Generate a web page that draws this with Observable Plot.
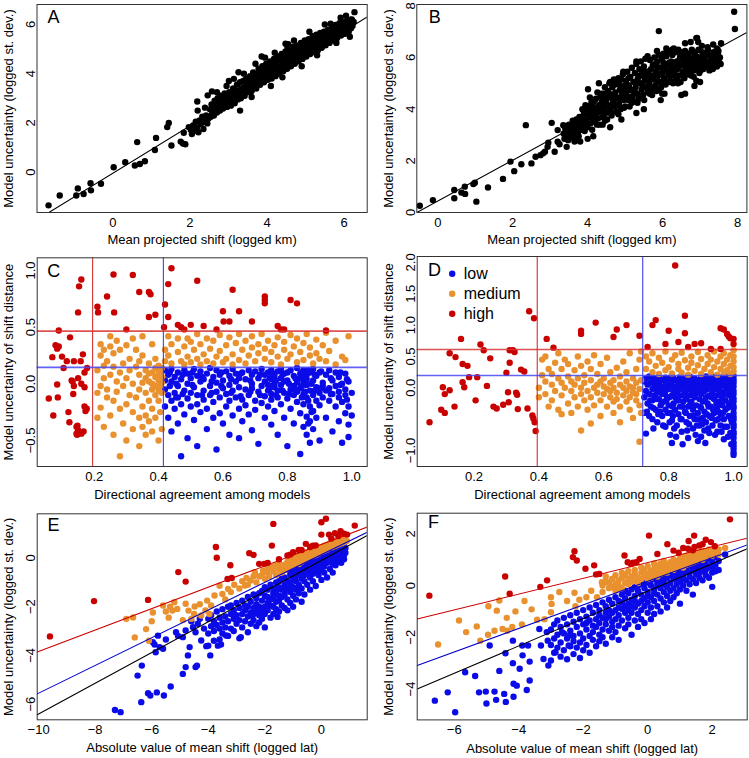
<!DOCTYPE html>
<html><head><meta charset="utf-8">
<script src="https://cdn.jsdelivr.net/npm/d3@7"></script>
<script src="https://cdn.jsdelivr.net/npm/@observablehq/plot@0.6"></script>
<style>
html,body{margin:0;padding:0;background:#fff;}
#wrap{position:relative;width:749px;height:758px;overflow:hidden;background:#fff;}
</style></head><body><div id="wrap"></div>
<script>
// ---------- Panel A (x,y flat pairs) ----------
const ptsA = [
-1.67,-1.35, -1.38,-0.95, -0.95,-0.95, -0.91,-0.66, -0.76,-0.89, -0.58,-0.45, -0.57,-0.74, -0.31,-0.47, 0.02,0.2, 0.32,0.4, 0.57,0.27, 0.63,1.22, 0.7,0.33, 0.83,0.44, 1.09,0.9, 1.12,1.39, 1.41,1.83, 1.45,2.0, 1.52,1.08, 1.76,1.24, 1.82,1.16, 1.88,1.13, 1.84,1.6, 1.97,1.83, 2.19,2.87, 2.2,2.5, 2.46,3.12, 2.57,3.28, 2.39,2.62, 3.01,3.7, 3.14,3.79, 3.26,4.06, 3.86,4.7, 4.48,5.22, 4.53,5.08, 4.66,4.95, 5.2,5.52, 5.65,6.03, 5.91,6.27, 6.27,6.5, 6.17,6.19,
2.02,1.72, 2.05,1.55, 2.08,1.9, 2.12,1.68, 2.15,2.05, 2.18,1.8, 2.22,1.62, 2.25,2.1, 2.28,1.95, 2.32,2.25, 2.35,1.75, 2.38,2.05, 2.42,2.3, 2.45,1.98, 2.48,2.18,
2.52,2.55, 2.54,2.25, 2.56,2.75, 2.58,2.4, 2.6,2.62, 2.62,2.3, 2.64,2.9, 2.66,2.55, 2.68,2.75, 2.7,2.42, 2.72,3.0, 2.74,2.62, 2.76,2.85, 2.78,2.5, 2.8,3.1, 2.82,2.72, 2.84,2.95, 2.86,2.58, 2.88,2.85, 2.9,3.2, 2.92,2.78, 2.94,3.0, 2.96,2.65, 2.98,3.1,
3.0,2.85, 3.02,3.25, 3.04,3.0, 3.06,2.7, 3.08,3.15, 3.1,2.9, 3.12,3.4, 3.14,3.05, 3.16,2.8, 3.18,3.3, 3.2,3.1, 3.22,3.55, 3.24,2.95, 3.26,3.3, 3.28,3.15, 3.3,3.65, 3.32,3.0, 3.34,3.4, 3.36,3.2, 3.38,3.7, 3.4,3.45, 3.42,3.1, 3.44,3.35, 3.46,3.8, 3.48,3.55,
3.5,3.25, 3.52,3.65, 3.54,3.45, 3.56,3.9, 3.58,3.6, 3.6,3.3, 3.62,3.78, 3.64,4.05, 3.66,3.55, 3.68,3.85, 3.7,3.7, 3.72,3.4, 3.74,4.0, 3.76,3.75, 3.78,4.2, 3.8,3.9, 3.82,3.55, 3.84,4.05, 3.86,3.8, 3.88,4.3, 3.9,3.95, 3.92,3.65, 3.94,4.15, 3.96,3.9, 3.98,4.4,
4.0,4.05, 4.02,3.75, 4.04,4.25, 4.06,3.95, 4.08,4.5, 4.1,4.1, 4.12,3.8, 4.14,4.35, 4.16,4.05, 4.18,4.6, 4.2,4.25, 4.22,3.9, 4.24,4.45, 4.26,4.15, 4.28,4.7, 4.3,4.3, 4.32,4.0, 4.34,4.55, 4.36,4.25, 4.38,4.8, 4.4,4.4, 4.42,4.1, 4.44,4.65, 4.46,4.35, 4.48,4.9,
4.5,4.5, 4.52,4.2, 4.54,4.75, 4.56,4.45, 4.58,4.95, 4.6,4.62, 4.62,4.3, 4.64,4.85, 4.66,4.55, 4.68,5.1, 4.7,4.72, 4.72,4.4, 4.74,4.95, 4.76,4.65, 4.78,5.15, 4.8,4.82, 4.82,4.5, 4.84,5.05, 4.86,4.75, 4.88,5.25, 4.9,4.9, 4.92,4.6, 4.94,5.15, 4.96,4.85, 4.98,5.35,
5.0,5.0, 5.02,4.7, 5.04,5.2, 5.06,4.9, 5.08,5.4, 5.1,5.1, 5.12,4.8, 5.14,5.3, 5.16,5.0, 5.18,5.5, 5.2,5.18, 5.22,4.88, 5.24,5.38, 5.26,5.1, 5.28,5.58, 5.3,5.25, 5.32,4.95, 5.34,5.45, 5.36,5.2, 5.38,5.65, 5.4,5.32, 5.42,5.05, 5.44,5.52, 5.46,5.28, 5.48,5.7,
5.5,5.4, 5.52,5.15, 5.54,5.6, 5.56,5.35, 5.58,5.78, 5.6,5.5, 5.62,5.25, 5.64,5.68, 5.66,5.45, 5.68,5.88, 5.7,5.6, 5.72,5.35, 5.74,5.78, 5.76,5.55, 5.78,5.98, 5.8,5.68, 5.82,5.45, 5.84,5.85, 5.86,5.62, 5.88,6.05, 5.9,5.78, 5.92,5.55, 5.94,5.95, 5.96,5.72, 5.98,6.1,
6.0,5.85, 6.02,5.62, 6.04,6.0, 6.06,5.78, 6.08,6.15, 6.1,5.9, 6.12,5.7, 6.15,6.05, 6.18,5.85, 6.2,6.2, 6.22,5.95, 6.25,6.1,
3.3,2.5, 3.6,3.05, 4.1,3.5, 4.4,3.85, 4.9,4.3, 5.3,4.75, 5.8,5.25, 3.4,4.0, 3.7,4.4, 4.2,4.85, 4.7,5.35, 5.1,5.7, 5.5,6.0, 2.7,3.25, 2.95,3.5, 6.05,6.35, 6.15,5.5, 3.95,4.65, 4.55,5.2
];
// ---------- Panel B ----------
const ptsB = [
-0.48,0.26, -0.13,0.48, 0.44,0.87, 0.44,0.55, 0.63,0.77, 0.72,1.0, 0.73,0.72, 0.95,1.1, 0.99,1.15, 1.03,0.42, 1.34,0.97, 1.74,1.3, 1.94,1.97, 2.04,1.6, 2.23,1.87, 2.35,3.38, 2.5,1.9, 2.61,2.16, 2.74,2.22, 2.81,2.29, 2.86,2.35, 2.95,2.7, 2.93,2.54, 3.04,3.47, 3.12,2.35, 3.2,2.74, 3.2,3.19, 3.25,2.64, 3.44,2.54, 3.35,3.38, 4.01,4.77, 5.9,7.02, 7.91,7.77, 7.93,7.1, 6.92,6.76,
3.36,3.05, 3.38,2.85, 3.4,3.3, 3.43,2.95, 3.45,3.15, 3.48,2.8, 3.5,3.4, 3.52,3.05, 3.55,3.25, 3.57,2.9, 3.6,3.55, 3.62,3.15, 3.64,3.35, 3.66,2.85, 3.68,3.05, 3.7,3.6, 3.72,3.25, 3.74,3.45, 3.76,2.95, 3.78,3.7, 3.8,3.35,
3.82,3.2, 3.84,3.7, 3.86,4.0, 3.88,3.35, 3.9,3.8, 3.92,3.15, 3.94,4.15, 3.96,3.55, 3.98,3.9, 4.0,3.3, 4.02,4.1, 4.04,3.7, 4.06,4.45, 4.08,3.45, 4.1,3.95, 4.12,3.2, 4.14,4.25, 4.16,3.75, 4.18,4.05, 4.2,3.5, 4.22,4.4, 4.24,3.85, 4.26,4.65, 4.28,3.65, 4.3,4.15, 4.32,3.4, 4.34,4.5, 4.36,3.95, 4.38,4.3, 4.4,3.7,
4.42,4.6, 4.44,4.05, 4.46,4.85, 4.48,3.85, 4.5,4.35, 4.52,3.6, 4.54,4.7, 4.56,4.15, 4.58,5.0, 4.6,3.95, 4.62,4.5, 4.64,3.75, 4.66,4.85, 4.68,4.3, 4.7,5.15, 4.72,4.1, 4.74,4.65, 4.76,3.9, 4.78,5.05, 4.8,4.45, 4.82,5.2, 4.84,4.2, 4.86,4.75, 4.88,4.0, 4.9,5.15, 4.92,4.55, 4.94,5.35, 4.96,4.35, 4.98,4.9, 5.0,4.1,
5.02,5.1, 5.04,4.65, 5.06,5.45, 5.08,4.35, 5.1,4.9, 5.12,4.1, 5.14,5.25, 5.16,4.75, 5.18,5.6, 5.2,4.5, 5.22,5.05, 5.24,4.3, 5.26,5.4, 5.28,4.85, 5.3,5.75, 5.32,4.6, 5.34,5.2, 5.36,4.4, 5.38,5.55, 5.4,5.0, 5.42,5.85, 5.44,4.75, 5.46,5.3, 5.48,4.55, 5.5,5.65, 5.52,5.1, 5.54,5.95, 5.56,4.85, 5.58,5.45, 5.6,4.65,
5.62,5.45, 5.64,5.05, 5.66,5.9, 5.68,4.75, 5.7,5.3, 5.72,4.55, 5.74,5.7, 5.76,5.15, 5.78,6.0, 5.8,4.9, 5.82,5.45, 5.84,4.7, 5.86,5.85, 5.88,5.3, 5.9,6.1, 5.92,5.05, 5.94,5.6, 5.96,4.85, 5.98,5.95, 6.0,5.4, 6.02,6.15, 6.04,5.2, 6.06,5.7, 6.08,4.95, 6.1,6.05, 6.12,5.5, 6.14,6.2, 6.16,5.3, 6.18,5.8, 6.2,5.1,
6.22,5.6, 6.24,5.3, 6.26,6.1, 6.28,5.0, 6.3,5.75, 6.32,5.45, 6.34,6.2, 6.36,5.2, 6.38,5.85, 6.4,5.55, 6.42,6.3, 6.44,5.3, 6.46,5.95, 6.48,5.05, 6.5,5.7, 6.52,6.1, 6.54,5.45, 6.56,5.9, 6.58,5.2, 6.6,6.25, 6.62,5.6, 6.64,6.0, 6.66,5.35, 6.68,5.85, 6.7,6.15, 6.72,5.55, 6.74,5.95, 6.76,5.3, 6.78,6.3, 6.8,5.7,
6.82,5.95, 6.84,5.5, 6.86,6.2, 6.88,5.75, 6.9,6.05, 6.92,5.55, 6.94,5.85, 6.96,6.3, 6.98,5.65, 7.0,6.0, 7.03,5.75, 7.06,6.2, 7.09,5.55, 7.12,5.9, 7.15,6.1, 7.18,5.7, 7.21,6.3, 7.24,5.85, 7.27,6.05, 7.3,5.6, 7.33,5.95, 7.36,6.2, 7.39,5.8, 7.42,6.0, 7.45,5.65, 7.48,6.1, 7.5,5.85, 7.53,6.0, 7.56,6.55,
6.9,6.75, 6.95,6.6, 7.05,6.45, 7.2,6.4, 7.35,6.5, 7.45,6.35, 6.5,4.55, 6.6,4.6, 6.85,4.9, 6.9,5.1, 7.0,5.05, 5.95,4.35, 6.05,4.6, 5.5,4.0, 5.3,3.85, 4.9,3.6, 4.6,3.3, 4.4,3.4, 4.15,2.95, 4.0,2.85, 3.8,2.75, 3.65,2.75, 4.3,5.0, 4.6,5.05, 4.95,5.45, 5.3,5.85, 5.6,6.05, 5.85,6.25, 6.1,6.35, 6.3,6.35, 6.6,6.55, 6.75,6.6
];
const ptsB2 = [
3.41,3.2, 3.47,3.35, 3.53,2.95, 3.59,3.4, 3.65,3.1, 3.71,3.5, 3.77,3.2, 3.83,3.55, 3.89,3.95, 3.95,3.3, 4.01,3.75, 4.07,4.05, 4.13,3.6, 4.19,4.35, 4.25,3.4, 4.31,3.9, 4.37,4.6, 4.43,3.75, 4.49,4.2, 4.55,4.45, 4.61,3.85, 4.67,4.55, 4.73,4.95, 4.79,4.15, 4.85,4.4, 4.91,4.7, 4.97,4.05, 5.03,4.85, 5.09,5.2, 5.15,4.45, 5.21,4.7, 5.27,5.05, 5.33,4.25, 5.39,5.3, 5.45,4.95, 5.51,4.35, 5.57,5.2, 5.63,4.9, 5.69,5.55, 5.75,4.8, 5.81,5.75, 5.87,5.1, 5.93,5.35, 5.99,4.6, 6.05,5.55, 6.11,5.75, 6.17,5.05, 6.23,5.85, 6.29,5.4, 6.35,5.65, 6.41,5.0, 6.47,6.05, 6.53,5.3, 6.59,5.75, 6.65,6.1, 6.71,5.45, 6.77,5.75, 6.83,5.25, 6.89,6.0, 6.95,5.75, 7.01,5.5, 7.07,5.95, 7.13,5.65, 7.19,6.1, 7.25,5.5, 7.31,5.8, 7.37,6.05, 7.43,5.7, 7.49,6.25, 7.55,5.75,
3.5,3.0, 3.62,3.4, 3.74,3.1, 3.86,3.65, 3.98,3.45, 4.1,4.25, 4.22,3.65, 4.34,4.1, 4.46,3.55, 4.58,4.6, 4.7,4.35, 4.82,3.8, 4.94,4.6, 5.06,4.95, 5.18,4.25, 5.3,5.0, 5.42,4.5, 5.54,5.35, 5.66,4.6, 5.78,5.3, 5.9,4.75, 6.02,5.8, 6.14,5.45, 6.26,5.7, 6.38,5.2, 6.5,6.2, 6.62,5.85, 6.74,5.55, 6.86,5.9, 6.98,5.4, 7.1,6.15, 7.22,5.75, 7.34,5.55, 7.46,5.9, 4.05,3.9, 4.45,4.4, 4.85,4.95, 5.25,4.7, 5.65,5.15, 6.05,5.05, 6.45,5.7, 6.85,6.05, 5.45,5.5, 5.05,4.5, 4.65,4.1, 4.25,4.0, 3.85,3.3, 6.25,6.3, 5.85,5.65, 6.65,5.7
];
const fitA = [-0.043, 0.961];
const fitB = [0.443, 0.791];

// ---------- Panel C ----------
const cLow = [
[0.42,[0.12,-0.05,-0.2,0.03]],[0.43,[-0.1,0.08,-0.3]],[0.44,[0.02,-0.15,0.13,-0.42]],[0.45,[-0.08,0.06,-0.22]],[0.46,[0.1,-0.02,-0.35,-0.12]],[0.47,[0.04,-0.18,-0.64]],[0.48,[-0.06,0.12,-0.27]],[0.49,[0.0,-0.13,0.09,-0.48]],[0.5,[-0.2,0.05,-0.08]],[0.51,[0.13,-0.03,-0.32]],[0.52,[-0.1,0.07,-0.18,-0.55]],[0.53,[0.02,-0.25,0.11]],[0.54,[-0.06,-0.14,0.04]],[0.55,[0.09,-0.22,-0.4]],[0.56,[-0.02,0.14,-0.1]],[0.57,[-0.3,0.06,-0.16]],[0.58,[0.01,-0.07,-0.58,0.12]],[0.59,[-0.12,0.08,-0.26]],[0.6,[0.03,-0.04,-0.35]],[0.61,[0.11,-0.2,-0.09]],[0.62,[-0.01,0.07,-0.45,-0.15]],[0.63,[0.13,-0.06,-0.28]],[0.64,[0.02,-0.12,0.09]],[0.65,[-0.22,0.05,-0.48,-0.03]],[0.66,[0.1,-0.14,-0.33]],[0.67,[-0.05,0.04,-0.19]],[0.68,[0.12,-0.1,-0.27]],[0.69,[0.0,-0.04,0.08,-0.41]],[0.7,[-0.15,0.11,-0.23]],[0.71,[0.05,-0.07,-0.53]],[0.72,[-0.02,0.13,-0.17]],[0.73,[0.08,-0.11,-0.3,0.02]],[0.74,[-0.06,0.1,-0.2,-0.01]],[0.75,[0.04,-0.09,0.12,-0.14,-0.36]],[0.76,[-0.03,0.07,-0.24,0.0]],[0.77,[0.11,-0.06,-0.45,-0.12]],[0.78,[-0.01,0.05,-0.18,0.13]],[0.79,[-0.08,0.09,-0.3,0.02]],[0.8,[0.03,-0.13,-0.55,0.1]],[0.81,[-0.05,0.12,-0.22]],[0.82,[0.07,-0.02,-0.35,-0.1]],[0.83,[0.14,-0.07,-0.16,0.01]],[0.84,[-0.04,0.09,-0.26,-0.62,0.05]],[0.85,[-0.09,0.02,0.12,-0.38,-0.18]],[0.86,[-0.01,-0.12,0.08,-0.29,-0.45,0.04]],[0.87,[-0.06,0.1,-0.2,-0.52,-0.33]],[0.88,[0.03,-0.1,-0.24,0.13,-0.4]],[0.89,[-0.03,0.07,-0.15,-0.3]],[0.9,[0.1,-0.08,-0.5,-0.19]],[0.91,[0.01,-0.12,-0.02]],[0.92,[-0.06,0.08,-0.3]],[0.93,[0.12,-0.15,-0.04]],[0.94,[-0.09,0.03,-0.42]],[0.95,[-0.02,0.1,-0.2]],[0.96,[-0.07,0.06,-0.33,-0.12]],[0.97,[0.0,-0.16,-0.52]],[0.98,[-0.05,0.09,-0.26,-0.1]],[0.99,[-0.2,0.02,-0.36,-0.47]],[1.0,[-0.08,-0.28]],
[0.435,[-0.02,0.1]],[0.455,[-0.12,0.0]],[0.475,[0.08,-0.09]],[0.505,[-0.01,0.1]],[0.535,[-0.1,0.06]],[0.565,[0.02,-0.08]],[0.595,[0.1,-0.02]],[0.625,[-0.08,0.04]],[0.655,[0.09,-0.11]],[0.685,[0.03,-0.07]],[0.715,[-0.1,0.08]],[0.745,[0.05,-0.04]],[0.755,[-0.02,0.09]],[0.765,[0.03,-0.1]],[0.785,[-0.06,0.08]],[0.805,[0.0,-0.09]],[0.825,[0.05,-0.05]],[0.845,[-0.12,0.1,-0.02]],[0.855,[0.06,-0.07]],[0.865,[-0.15,0.12,-0.35]],[0.875,[0.0,-0.25]],[0.885,[0.08,-0.06]],[0.905,[-0.04,0.11]],[0.935,[0.05,-0.09]],[0.965,[-0.01,0.1]],[0.985,[0.04,-0.14]]
];
const cMed = [
[0.21,[0.12,-0.08,-0.3]],[0.22,[0.25,-0.02,-0.21,0.35]],[0.23,[0.05,-0.38,0.3,0.16]],[0.24,[-0.12,0.2,-0.05]],[0.25,[0.33,-0.28,0.08,0.42]],[0.26,[-0.15,0.15,-0.45,0.27]],[0.27,[0.02,-0.07,0.38]],[0.28,[-0.22,0.3,-0.64,0.1]],[0.29,[0.18,-0.35,-0.02]],[0.3,[0.34,0.05,-0.18,-0.5]],[0.31,[-0.1,0.22,0.12]],[0.32,[0.4,-0.25,0.0,-0.4]],[0.33,[0.15,-0.12,0.3]],[0.34,[-0.3,0.08,-0.55,0.2,-0.05]],[0.35,[0.01,-0.2,0.25,0.42,-0.38]],[0.36,[-0.08,0.12,-0.28,0.05,-0.45]],[0.37,[0.18,-0.15,0.02,-0.33,0.09]],[0.38,[-0.05,0.1,-0.22,0.35,0.0,-0.42]],[0.39,[0.06,-0.1,0.14,-0.02,-0.3,0.22]],[0.4,[0.03,-0.06,0.1,-0.15,-0.5,0.16]],[0.405,[0.08,-0.02,0.12,-0.25,0.04]],[0.41,[-0.08,0.01,0.14,-0.4,0.06]],
[0.42,[0.3,0.2]],[0.43,[0.42,0.25]],[0.44,[0.18,0.35]],[0.46,[0.28,0.4]],[0.47,[0.2]],[0.48,[0.33,0.17]],[0.49,[0.4,0.24]],[0.5,[0.19,0.37]],[0.51,[0.3]],[0.52,[0.22,0.44]],[0.53,[0.35,0.17]],[0.54,[0.26]],[0.55,[0.4,0.2]],[0.56,[0.31]],[0.57,[0.18,0.38]],[0.58,[0.24]],[0.59,[0.43,0.29]],[0.6,[0.19]],[0.61,[0.34,0.22]],[0.62,[0.41]],[0.63,[0.26,0.17]],[0.64,[0.36]],[0.65,[0.21,0.44]],[0.66,[0.3]],[0.67,[0.38,0.18]],[0.68,[0.25]],[0.69,[0.42,0.32]],[0.7,[0.2]],[0.71,[0.35,0.27]],[0.72,[0.44]],[0.73,[0.22,0.31]],[0.74,[0.38]],[0.75,[0.19,0.28]],[0.76,[0.34]],[0.77,[0.24,0.41]],[0.78,[0.17]],[0.79,[0.3,0.37]],[0.8,[0.22]],[0.81,[0.43,0.26]],[0.82,[0.33]],[0.83,[0.19,0.4]],[0.84,[0.28]],[0.85,[0.36,0.21]],[0.86,[0.44]],[0.87,[0.25,0.32]],[0.88,[0.18]],[0.89,[0.39,0.27]],[0.9,[0.22]],[0.91,[0.34]],[0.92,[0.45,0.2]],[0.93,[0.29]],[0.95,[0.38,0.17]],[0.97,[0.24]],[0.98,[0.21]],[0.99,[0.42]]
];
const cHigh = [
0.059,-0.13, 0.073,-0.28, 0.085,-0.006, 0.087,-0.12, 0.085,0.31, 0.08,0.34, 0.09,0.33, 0.07,0.235, 0.09,0.47, 0.1,0.24, 0.105,0.14, 0.115,0.2, 0.125,0.41, 0.12,-0.25, 0.123,-0.34, 0.13,0.03, 0.133,0.02, 0.137,-0.02, 0.137,0.2, 0.135,-0.09, 0.145,-0.38, 0.145,-0.44, 0.147,-0.45, 0.15,-0.41, 0.148,-0.37, 0.15,0.63, 0.153,0.86, 0.16,0.92, 0.158,0.2, 0.15,0.05, 0.16,0.0, 0.17,-0.03, 0.17,-0.2, 0.173,-0.24, 0.177,-0.22, 0.165,0.26, 0.17,0.1, 0.178,0.14, 0.167,-0.42, 0.16,-0.44,
0.21,0.68, 0.212,0.63, 0.24,0.77, 0.26,0.965, 0.262,0.63, 0.3,0.48, 0.32,0.96, 0.34,0.81, 0.37,0.81, 0.375,0.79, 0.37,0.59, 0.39,0.61, 0.417,0.5, 0.42,0.7, 0.43,0.88, 0.44,1.02, 0.43,0.59, 0.46,0.52, 0.47,0.5, 0.48,0.48, 0.5,0.52, 0.52,0.91, 0.54,0.51, 0.58,0.48, 0.6,0.64, 0.602,0.55, 0.62,0.55, 0.63,0.83, 0.65,0.64, 0.69,0.55, 0.73,0.77, 0.73,0.74, 0.73,0.71, 0.77,0.51, 0.78,0.48, 0.79,0.48, 0.81,0.74, 0.83,0.71, 0.92,0.47
];
const cutsC = {highY: 0.465, lowY: 0.145, highX: 0.195, lowX: 0.415};

// ---------- Panel D ----------
const dLow = [
[0.725,[0.1,-0.15,-0.4]],[0.73,[-0.05,0.15,-0.73]],[0.735,[0.05,-0.25]],[0.74,[-0.1,0.18,-0.45]],[0.745,[0.08,-0.3]],[0.75,[-0.02,0.12,-0.2,-0.5]],[0.755,[0.15,-0.12]],[0.76,[0.0,-0.35,0.1]],[0.765,[-0.08,-0.55]],[0.77,[0.05,-0.18,0.17]],[0.775,[-0.28,-0.02]],[0.78,[0.12,-0.1,-0.45]],[0.785,[0.02,-0.22]],[0.79,[-0.05,0.16,-0.35,-0.62]],[0.795,[0.08,-0.15]],[0.8,[-0.02,-0.28,0.13]],[0.805,[-0.4,0.04,-0.75]],[0.81,[0.1,-0.12,-0.52,-0.88]],[0.815,[-0.05,0.15,-0.25]],[0.82,[0.02,-0.35,-0.15]],[0.825,[0.12,-0.08,-0.6]],[0.83,[-0.2,0.05,-0.42]],[0.835,[-0.02,0.17,-0.3]],[0.84,[0.08,-0.12,-0.5,-0.7]],[0.845,[-0.22,0.0]],[0.85,[0.14,-0.08,-0.38]],[0.855,[0.04,-0.18,-0.55]],[0.86,[-0.02,0.1,-0.3,-0.8]],[0.865,[0.18,-0.12,-0.45]],[0.87,[0.06,-0.22,-0.05]],[0.875,[-0.35,0.12,-0.65]],[0.88,[0.0,-0.15,-0.5,0.15]],[0.885,[-0.08,-0.28,0.08]],[0.89,[0.12,-0.4,-0.85,-0.02]],[0.895,[-0.18,0.04,-0.6]],[0.9,[0.16,-0.1,-0.32,-0.78]],[0.905,[0.02,-0.22,-0.48]],[0.91,[0.1,-0.05,-0.38,-0.68]],[0.915,[-0.15,0.18,-0.55]],[0.92,[0.05,-0.25,-0.02]],[0.925,[-0.12,0.12,-0.45,-0.72]],[0.93,[0.0,-0.3,0.15]],[0.935,[-0.08,-0.6,0.07]],[0.94,[0.12,-0.18,-0.4]],[0.945,[-0.02,0.18,-0.52]],[0.95,[0.08,-0.12,-0.3,-0.7]],[0.955,[-0.22,0.02,0.14]],[0.96,[-0.05,-0.42,0.1,-0.6]],[0.965,[0.16,-0.15,-0.28]],[0.97,[0.04,-0.08,-0.5,-0.82]],[0.975,[-0.2,0.12,-0.35]],[0.98,[0.0,-0.1,-0.62,0.18]],[0.985,[0.08,-0.25,-0.45]],[0.99,[-0.05,0.14,-0.3,-0.72]],[0.995,[0.05,-0.18,-0.55,0.1]],
[1.0,[0.19,0.13,0.08,0.02,-0.05,-0.1,-0.17,-0.22,-0.29,-0.33,-0.4,-0.46,-0.51,-0.58,-0.63,-0.7,-0.74,-0.8,-0.87,-0.92,-0.97,-1.03,-1.07]]
];
const dLow2 = [
0.752,-0.32, 0.758,0.05, 0.763,-0.18, 0.768,-0.42, 0.772,0.12, 0.778,-0.25, 0.783,-0.6, 0.788,-0.08, 0.792,0.07, 0.797,-0.4, 0.802,-0.15, 0.807,0.17, 0.812,-0.3, 0.817,-0.65, 0.822,-0.02, 0.827,-0.2, 0.832,0.1, 0.837,-0.5, 0.842,-0.3, 0.847,0.12, 0.852,-0.15, 0.857,-0.68, 0.862,0.0, 0.867,-0.25, 0.872,0.15, 0.877,-0.45, 0.882,-0.1, 0.887,-0.6, 0.892,0.05, 0.897,-0.3, 0.902,-0.05, 0.907,0.12, 0.912,-0.2, 0.917,-0.42, 0.922,-0.65, 0.927,0.0, 0.932,-0.15, 0.937,-0.35, 0.942,0.08, 0.947,-0.25, 0.952,-0.5, 0.957,-0.08, 0.962,0.16, 0.967,-0.4, 0.972,-0.2, 0.977,0.0, 0.982,-0.32, 0.987,-0.12, 0.992,-0.5, 0.997,-0.25,
0.903,-0.58, 0.913,-0.88, 0.923,-0.3, 0.933,-0.48, 0.943,-0.75, 0.953,-0.38, 0.963,-0.7, 0.973,-0.62, 0.983,-0.78, 0.993,-0.9, 0.843,-0.9, 0.853,-0.4, 0.863,-0.58, 0.873,-0.28, 0.883,-0.75, 0.893,-0.5, 0.813,-0.45, 0.823,-0.78, 0.833,-0.12, 0.793,-0.2, 0.803,-0.55, 0.773,-0.38, 0.783,0.0, 0.763,0.14, 0.743,-0.2, 0.733,-0.38, 0.753,-0.65
];
const dMed = [
[0.4,[0.0,-0.15]],[0.41,[0.2,0.45]],[0.42,[-0.1,0.1,0.5]],[0.43,[0.3,-0.3]],[0.44,[0.05,0.22,-0.2]],[0.45,[0.4,-0.05]],[0.46,[0.15,-0.35,0.55]],[0.47,[-0.12,0.08,0.3,-0.42]],[0.48,[0.45,0.0]],[0.49,[0.18,-0.25,0.38]],[0.5,[-0.05,0.1,-0.4]],[0.51,[0.28,0.05,-0.15]],[0.52,[0.5,-0.3,0.15]],[0.53,[-0.1,0.35,-0.68,0.0]],[0.54,[0.2,-0.2,0.08]],[0.55,[0.42,-0.05,-0.35]],[0.56,[0.12,-0.15,0.3,-0.57]],[0.57,[0.0,-0.28,0.52]],[0.58,[0.22,-0.08,0.05]],[0.59,[-0.2,0.38,-0.45,0.1]],[0.6,[0.02,-0.1,0.15]],[0.61,[0.48,-0.3,-0.02]],[0.62,[0.08,-0.15,0.25,-0.05]],[0.63,[-0.22,0.12,-0.4,0.0]],[0.64,[0.32,-0.08,-0.18]],[0.65,[0.05,-0.3,0.18,-0.55]],[0.66,[-0.12,0.0,0.42]],[0.67,[0.1,-0.22,-0.05,0.25]],[0.68,[-0.35,0.02,-0.15,0.55]],[0.69,[0.15,-0.08,-0.48,0.0]],[0.7,[-0.2,0.3,-0.1,0.08]],[0.71,[0.45,-0.28,-0.86,-0.02]],[0.715,[0.12,-0.4,0.58]],
[0.73,[0.3,0.5]],[0.74,[0.42]],[0.75,[0.25,0.55]],[0.76,[0.35]],[0.77,[0.22,0.48]],[0.78,[0.4]],[0.79,[0.28,0.58]],[0.8,[0.33]],[0.81,[0.45,0.23]],[0.82,[0.52]],[0.83,[0.3,0.38]],[0.84,[0.24,0.56]],[0.85,[0.44]],[0.86,[0.32,0.21]],[0.87,[0.5,0.4]],[0.88,[0.27]],[0.89,[0.36,0.57]],[0.9,[0.22,0.46]],[0.91,[0.3]],[0.92,[0.52,0.38]],[0.93,[0.25,0.45]],[0.94,[0.33,0.58]],[0.95,[0.21,0.42]],[0.96,[0.5,0.3]],[0.97,[0.38,0.24,0.55]],[0.98,[0.45,0.28]],[0.99,[0.35,0.52,0.22]],[1.0,[0.6,0.5,0.42,0.33,0.26]]
];
const dHigh = [
0.063,-0.55, 0.099,-0.35, 0.104,0.01, 0.11,-0.1, 0.11,-0.4, 0.125,-0.04, 0.125,0.55, 0.14,-0.3, 0.143,0.49, 0.16,0.78, 0.165,0.38, 0.165,0.09, 0.17,0.01, 0.18,0.35, 0.185,0.17, 0.205,-0.2, 0.21,0.17, 0.22,0.69, 0.23,0.6, 0.24,0.03, 0.25,0.47, 0.26,-0.3, 0.27,-0.33, 0.29,-0.27, 0.3,0.24, 0.305,-0.07, 0.307,-0.23, 0.31,0.6, 0.31,0.4, 0.32,0.6, 0.325,0.57, 0.33,-0.08, 0.333,-0.11, 0.335,-0.34, 0.345,0.29, 0.355,0.26, 0.365,-0.33, 0.37,1.22, 0.38,-0.44, 0.383,-0.49, 0.385,1.11, 0.387,-0.55, 0.39,-0.69,
0.424,0.78, 0.445,0.64, 0.53,0.86, 0.53,0.91, 0.575,1.04, 0.63,0.81, 0.64,0.93, 0.67,1.0, 0.71,0.83, 0.735,0.65, 0.76,1.08, 0.75,1.0, 0.8,0.91, 0.79,0.7, 0.82,1.95, 0.83,0.73, 0.85,1.15, 0.85,0.87, 0.86,0.65, 0.88,0.7, 0.9,0.71, 0.93,0.62, 0.96,0.62, 0.96,0.95, 0.97,0.93, 0.98,0.86, 0.99,0.79, 1.0,0.78, 1.0,0.7, 0.985,0.82
];
const cutsD = {highY: 0.61, lowY: 0.196, highX: 0.395, lowX: 0.72};

// ---------- Panel E ----------
const eLow = [
[-4.0,[-2.5,-3.1,-3.6]],[-3.9,[-2.35,-2.8]],[-3.8,[-3.0,-2.6,-3.4]],[-3.7,[-2.2,-2.75]],[-3.6,[-2.9,-2.45,-3.35]],[-3.5,[-2.1,-2.65,-3.1]],[-3.4,[-2.4,-2.85]],[-3.3,[-2.0,-2.6,-3.2]],[-3.2,[-2.3,-2.9,-1.95]],[-3.1,[-2.5,-2.15,-3.0]],[-3.0,[-1.85,-2.7,-2.35]],[-2.9,[-2.05,-3.3,-2.55]],[-2.8,[-1.75,-2.3,-2.85]],[-2.7,[-2.6,-1.95,-2.15]],[-2.6,[-1.6,-2.4,-3.05,-2.0]],[-2.5,[-2.25,-1.8,-2.7]],[-2.4,[-1.5,-2.05,-2.55,-2.3]],[-2.3,[-1.9,-2.8,-1.65,-2.2]],[-2.2,[-1.45,-2.35,-2.0,-2.65]],[-2.1,[-1.75,-2.15,-1.35,-2.5]],[-2.0,[-2.0,-1.55,-2.85,-1.2,-2.3]],[-1.9,[-1.85,-1.3,-2.15,-1.6]],[-1.8,[-1.1,-2.45,-1.7,-1.95]],[-1.7,[-1.45,-2.0,-1.25,-2.3,-1.6]],[-1.6,[-1.0,-1.8,-1.35,-2.1]],[-1.5,[-1.55,-0.95,-2.2,-1.2,-1.75]],[-1.4,[-1.3,-1.95,-0.85,-1.6]],[-1.3,[-1.1,-1.5,-2.05,-0.8,-1.35]],[-1.2,[-0.95,-1.7,-1.25,-2.15]],[-1.1,[-0.7,-1.4,-1.05,-1.85,-0.55]],[-1.0,[-1.2,-0.85,-1.55,-0.6,-2.0]],[-0.9,[-0.95,-0.5,-1.3,-1.7,-0.75]],[-0.8,[-0.65,-1.1,-0.4,-1.45]],[-0.7,[-0.85,-0.3,-1.25,-0.55,-1.8]],[-0.6,[-0.45,-0.95,-0.2,-1.5,-0.7]],[-0.5,[-0.6,-0.15,-1.1,-0.35]],[-0.4,[-0.25,-0.8,-0.05,-1.3,-0.5]],[-0.3,[-0.4,0.0,-0.95,-0.15,-0.65]],[-0.2,[-0.1,-0.55,0.08,-1.15,-0.3]],[-0.1,[-0.2,-0.7,0.15,-0.4,0.02]],[0.0,[-0.05,-0.3,0.2,-0.9,-0.5]],[0.1,[0.1,-0.15,0.28,-0.6,-0.35]],[0.2,[0.0,0.35,-0.2,-0.8,0.15]],[0.3,[0.22,-0.1,0.4,-0.45]],[0.4,[0.05,0.3,-0.25,0.45,-0.6]],[0.5,[0.18,-0.05,0.38,-0.3]],[0.6,[0.45,0.1,-0.15,0.3]],[0.7,[0.25,0.5,0.02,-0.2]],[0.8,[0.35,0.12,0.55,-0.05]],[0.85,[0.4,0.22]],
[-7.3,[-6.24]],[-7.1,[-6.33]],[-6.37,[-5.92]],[-6.5,[-4.83]],[-6.35,[-4.42]],[-6.13,[-5.55]],[-6.05,[-5.65]],[-5.82,[-5.52]],[-5.57,[-5.65]],[-5.33,[-5.28]],[-4.9,[-4.76,-3.25]],[-4.8,[-4.48,-2.98]],[-4.45,[-4.48,-3.05]],[-4.4,[-4.42]],[-3.93,[-4.0]],[-5.86,[-3.87]],[-5.72,[-3.66]],[-5.6,[-3.73]],[-5.96,[-3.46]],[-5.78,[-3.19]],[-5.14,[-3.05]],[-5.07,[-3.2]],[-4.72,[-4.0]],[-4.66,[-3.66]],[-4.54,[-2.84]],[-4.37,[-2.7]],[-4.25,[-3.39]],[-4.07,[-3.62]],[-3.66,[-3.6]],[-3.55,[-3.55]],[-3.37,[-3.18]],[-2.85,[-3.25]],[-4.6,[-2.6]],[-4.3,[-2.5]],[-4.15,[-2.9]],[-5.5,[-3.35]],[-5.9,[-3.55]],[-1.55,[-2.42]],[-2.44,[-2.36]]
];
const eMed = [
-6.9,-2.5, -6.66,-2.44, -6.6,-3.26, -6.2,-2.92, -5.96,-2.24, -6.1,-3.4, -5.27,-2.16, -5.2,-1.82, -5.1,-2.09, -4.8,-1.88, -4.7,-2.16, -4.5,-2.3, -4.48,-1.99, -4.3,-1.9, -4.25,-2.36, -4.04,-1.75, -3.96,-2.3, -3.78,-1.54, -3.6,-1.14, -3.5,-1.48, -3.3,-1.27, -3.08,-1.1, -2.7,-1.13, -2.65,-0.82, -2.5,-0.92, -2.35,-0.58, -2.2,-0.76, -2.06,-0.51, -1.92,-0.58, -1.78,-0.38, -5.4,-2.45, -5.35,-2.0, -2.9,-1.25, -2.8,-0.95, -2.6,-1.1, -2.4,-0.75, -2.3,-1.0, -2.1,-0.7, -2.0,-0.85, -1.9,-0.45, -1.85,-0.75, -3.2,-1.4, -3.4,-1.7, -3.9,-1.95, -4.1,-2.15, -4.6,-2.5, -4.9,-2.55, -5.5,-2.2, -5.6,-1.95, -6.0,-2.6
];
const eMedBand = [
[-1.7,[-0.55,-0.35]],[-1.6,[-0.7,-0.3]],[-1.5,[-0.45,-0.2]],[-1.4,[-0.6,-0.32]],[-1.3,[-0.28,-0.5]],[-1.2,[-0.15,-0.42]],[-1.1,[-0.35,-0.1]],[-1.0,[-0.05,-0.3,-0.2]],[-0.9,[-0.22,0.02]],[-0.8,[-0.1,0.1,-0.25]],[-0.7,[0.0,-0.15,0.15]],[-0.6,[0.08,-0.08,0.22]],[-0.5,[0.15,-0.02,0.25]],[-0.4,[0.05,0.25,0.12]],[-0.3,[0.18,0.32,0.08]],[-0.2,[0.25,0.12,0.38]],[-0.1,[0.3,0.18,0.42]],[0.0,[0.25,0.45,0.35]],[0.1,[0.38,0.3,0.5]],[0.2,[0.45,0.35,0.55]],[0.3,[0.5,0.42,0.6]],[0.4,[0.55,0.45,0.65]],[0.5,[0.6,0.5,0.7]],[0.6,[0.65,0.55]],[0.7,[0.7,0.6]],[0.8,[0.75,0.65]],[0.9,[0.7]]
];
const eHigh = [
-9.6,-3.22, -8.04,-1.77, -6.13,-1.72, -5.06,-0.58, -4.8,-0.97, -3.73,0.45, -3.7,0.01, -3.22,-0.3, -3.32,-0.86, -3.17,-0.82, -2.55,0.2, -2.4,0.13, -2.2,-0.24, -2.02,-0.24, -1.75,0.51, -1.7,1.4, -1.5,-0.05, -1.2,0.1, -1.1,0.14, -1.0,0.24, -0.8,0.33, -0.7,0.33, -0.55,0.58, -0.4,0.45, -0.2,0.52, 0.0,1.47, 0.0,0.96, 0.16,1.61, 0.27,0.96, 0.48,1.02, 0.68,1.1, 0.91,0.96, 1.18,1.33, -1.9,-0.2, -0.3,0.5, 0.35,0.8, 0.6,0.9, 0.8,1.0
];
const fitE = {high: [0.557, 0.44], low: [0.138, 0.569], all: [-0.10, 0.631]};

// ---------- Panel F ----------
const fLow = [
[-3.0,[-1.7,-2.3,-2.9]],[-2.9,[-1.5,-2.05,-2.6]],[-2.8,[-1.9,-1.35,-2.4]],[-2.7,[-2.2,-1.6,-2.75]],[-2.6,[-1.25,-1.85,-2.5]],[-2.5,[-2.05,-1.5,-2.85]],[-2.4,[-1.15,-1.75,-2.35]],[-2.3,[-1.95,-1.4,-2.65,-2.15]],[-2.2,[-1.05,-1.6,-2.4]],[-2.1,[-1.85,-1.3,-2.2,-2.8]],[-2.0,[-0.95,-1.5,-2.05,-2.5]],[-1.9,[-1.7,-1.2,-2.3,-1.45]],[-1.8,[-0.85,-1.95,-1.35,-2.6]],[-1.7,[-1.55,-1.05,-2.1,-1.8]],[-1.6,[-0.75,-1.3,-2.35,-1.6]],[-1.5,[-1.45,-0.95,-1.9,-2.15,-1.15]],[-1.4,[-0.65,-1.25,-1.7,-2.0]],[-1.3,[-1.05,-1.5,-0.8,-2.25,-1.3]],[-1.2,[-0.55,-1.2,-1.75,-0.95]],[-1.1,[-1.4,-0.7,-2.0,-1.05,-1.6]],[-1.0,[-0.45,-0.95,-1.3,-1.8]],[-0.9,[-1.15,-0.6,-1.55,-0.85,-2.1]],[-0.8,[-0.35,-0.9,-1.35,-0.65]],[-0.7,[-1.05,-0.5,-1.65,-0.2,-0.8]],[-0.6,[-0.7,-1.25,-0.3,-0.95,-1.5]],[-0.5,[-0.15,-0.55,-1.05,-0.8,-1.9]],[-0.4,[-0.4,-0.85,-0.05,-1.35,-0.6]],[-0.3,[-0.7,-0.2,-1.1,0.0,-1.6]],[-0.2,[-0.35,-0.6,0.05,-0.95,-1.3]],[-0.1,[-0.1,-0.5,-0.8,0.1,-1.45]],[0.0,[-0.25,0.12,-0.65,-1.05,-0.4]],[0.1,[0.0,-0.45,0.2,-0.85,-1.3]],[0.2,[-0.15,0.25,-0.6,-0.3,-1.1]],[0.3,[0.1,-0.35,0.3,-0.8,0.0]],[0.4,[-0.1,0.35,-0.5,0.15,-1.0]],[0.5,[0.2,-0.25,0.4,-0.65,0.05]],[0.6,[0.3,-0.05,0.45,-0.4,-0.85]],[0.7,[0.1,0.4,-0.2,0.55,-0.6]],[0.8,[0.25,0.5,-0.1,-0.45]],[0.9,[0.45,0.05,0.6,-0.3,0.3]],[1.0,[0.15,0.55,-0.15,0.35,-0.7]],[1.1,[0.4,0.65,0.0,0.25]],[1.2,[0.55,0.2,0.7,-0.2]],[1.3,[0.35,0.75,0.05,0.5]],[1.4,[0.6,0.25,0.8,-0.35]],[1.5,[0.45,0.85,0.1,0.65]],[1.6,[0.7,0.3,0.9,0.5]],[1.7,[0.55,0.95,0.2,0.75]],[1.8,[0.85,0.4,1.0,0.6]],[1.9,[0.7,0.3,1.05]],[2.0,[0.9,0.5,-0.05,0.7]],[2.1,[0.8,0.55,1.1]],[2.2,[0.6,0.95]],[2.4,[1.2]],
[-6.6,[-4.45]],[-6.2,[-4.13]],[-5.97,[-4.9]],[-5.66,[-3.35]],[-5.23,[-4.13]],[-5.0,[-4.56]],[-5.02,[-4.1]],[-4.75,[-4.1]],[-4.7,[-4.42]],[-4.4,[-4.5]],[-4.45,[-4.19]],[-4.16,[-4.3,-3.8]],[-4.06,[-3.87]],[-4.18,[-3.0,-2.13]],[-3.97,[-3.22]],[-3.89,[-2.32]],[-3.71,[-2.32]],[-3.66,[-2.94,-3.67]],[-3.75,[-4.04]],[-3.88,[-2.7]],[-4.41,[-2.62]],[-4.9,[-2.32]],[-3.36,[-1.68]],[-3.31,[-2.32]],[-3.13,[-1.8]],[-3.1,[-2.13]],[-3.23,[-2.84]],[-3.08,[-3.09]],[-2.86,[-2.58]],[-2.66,[-1.8]],[-2.45,[-2.32]],[-2.42,[-1.93]],[-5.35,[-3.5]],[-4.6,[-3.3]]
];
const fMed = [
-6.5,-2.28, -5.85,-1.35, -5.63,-1.8, -5.3,-1.58, -5.19,-2.13, -4.95,-1.9, -4.94,-0.8, -4.75,-1.75, -4.68,-0.97, -4.6,-0.58, -4.5,-1.68, -4.37,-1.25, -4.35,-1.75, -4.2,-1.6, -3.9,-1.5, -3.82,-0.6, -3.6,-0.92, -3.43,-1.32, -3.2,-1.3, -3.0,-1.03, -3.0,-0.45, -2.98,-0.71, -2.74,-0.25, -2.27,-0.28, -2.12,-0.55, -2.24,-0.8, -1.9,-0.45, -1.57,-0.45, -1.42,0.13, -1.26,0.13, -1.1,0.25, -0.95,-0.13, -2.5,-0.6, -1.75,-0.2, -4.1,-1.0
];
const fMedBand = [
[-1.4,[0.0,-0.25]],[-1.3,[0.15,0.35]],[-1.2,[-0.1,0.1]],[-1.1,[0.25,-0.05]],[-1.0,[0.05,0.4,-0.2]],[-0.9,[0.2,0.0]],[-0.8,[0.3,-0.1,0.5]],[-0.7,[0.1,0.4]],[-0.6,[0.25,0.05,0.55]],[-0.5,[0.35,0.15]],[-0.4,[0.45,0.2,0.6]],[-0.3,[0.3,0.1]],[-0.2,[0.5,0.25,0.7]],[-0.1,[0.35,0.6]],[0.0,[0.25,0.45,0.75]],[0.1,[0.55,0.3]],[0.2,[0.4,0.65,0.85]],[0.3,[0.5,0.75,0.35]],[0.4,[0.6,0.85,0.45]],[0.5,[0.7,0.5,0.95]],[0.6,[0.8,0.6,0.5]],[0.7,[0.65,0.9,0.75]],[0.8,[0.85,0.6,1.0]],[0.9,[0.7,0.95,0.8]],[1.0,[0.75,1.05,0.9]],[1.1,[0.85,1.1,0.7]],[1.2,[0.95,1.15,0.8]],[1.3,[1.0,0.85,1.2]],[1.4,[1.1,0.9,1.25]],[1.5,[0.95,1.2,1.05]],[1.6,[1.05,1.3,1.15]],[1.7,[1.2,1.0,1.35]],[1.8,[1.1,1.3]],[1.9,[1.25,1.4]],[2.0,[1.15,1.35]],[2.1,[1.3,1.45]],[2.2,[1.4,1.2]],[2.4,[1.45]]
];
const fHigh = [
-6.77,-0.39, -4.42,0.35, -4.28,-0.32, -3.33,-0.05, -3.12,0.2, -2.32,1.1, -2.27,1.33, -2.2,0.97, -1.93,0.65, -1.66,0.78, -1.6,0.43, -1.5,0.45, -0.72,1.16, -0.62,0.9, -0.52,0.83, -0.45,0.88, -0.35,0.9, -0.25,1.03, 0.04,1.93, 0.3,1.22, 0.61,1.6, 0.96,1.27, 1.27,1.72, 1.44,1.93, 1.45,1.49, 1.6,1.55, 1.8,1.77, 1.96,1.68, 2.08,1.52, 2.55,2.56, 1.25,1.42, 1.4,1.36, 1.1,1.45, 0.8,1.35, 1.7,1.6
];
const fitF = {high: [0.889, 0.305], low: [0.165, 0.4555], all: [-0.215, 0.53]};

// tick values
const ticksA = {x: [0, 2, 4, 6], y: [0, 2, 4, 6]};
const ticksB = {x: [0, 2, 4, 6, 8], y: [0, 2, 4, 6, 8]};
const ticksC = {x: [0.2, 0.4, 0.6, 0.8, 1.0], y: [-0.5, 0, 0.5, 1.0]};
const ticksD = {x: [0.2, 0.4, 0.6, 0.8, 1.0], y: [-1, -0.5, 0, 0.5, 1, 1.5, 2]};
const ticksE = {x: [-10, -8, -6, -4, -2, 0], y: [-6, -4, -2, 0]};
const ticksF = {x: [-6, -4, -2, 0, 2], y: [-4, -2, 0, 2]};
const legendLabels = ["low", "medium", "high"];

// ---------- helpers ----------
function pairs(a){const r=[];for(let i=0;i<a.length;i+=2)r.push([a[i],a[i+1]]);return r;}
function cols(a){const r=[];for(const [x,ys] of a)for(const y of ys)r.push([x,y]);return r;}
const MINUS = "\u2212";
const fmtInt = d => (d < 0 ? MINUS : "") + Math.abs(d);
const fmt1 = d => (d < 0 ? MINUS : "") + Math.abs(d).toFixed(1);
const COL = {low: "#0b0be8", medium: "#e8912e", high: "#c90000"};
const FONT = "'Liberation Sans', Arial, Helvetica, sans-serif";

function fitLine(coef, dom, color){
  const [a,b] = coef;
  const data = [[dom[0], a + b*dom[0]], [dom[1], a + b*dom[1]]];
  return Plot.line(data, {x: d=>d[0], y: d=>d[1], stroke: color, strokeWidth: 1.1, clip: true});
}

function makePanel(p){
  const marks = [];
  for (const s of p.series) marks.push(Plot.dot(s.data, {x: d=>d[0], y: d=>d[1], r: 3.2, fill: s.color, stroke: "none"}));
  if (p.fits) for (const f of p.fits) marks.push(fitLine(f.coef, p.xDomain, f.color));
  if (p.cuts) {
    const c = p.cuts;
    marks.push(Plot.ruleX([c.highX], {stroke: "#d42a2a", strokeWidth: 1.2, strokeOpacity: 0.9}));
    marks.push(Plot.ruleX([c.lowX], {stroke: "#3a3af2", strokeWidth: 1.2, strokeOpacity: 0.9}));
    marks.push(Plot.ruleY([c.highY], {stroke: "#d83434", strokeWidth: 1.6, strokeOpacity: 0.85}));
    marks.push(Plot.ruleY([c.lowY], {stroke: "#4646f4", strokeWidth: 1.6, strokeOpacity: 0.85}));
  }
  marks.push(Plot.frame({stroke: "#333", strokeWidth: 1}));
  marks.push(Plot.axisX({ticks: p.ticks.x, tickSize: 0, tickPadding: 5, tickFormat: p.xFmt, label: null}));
  marks.push(Plot.axisY({ticks: p.ticks.y, tickSize: 0, tickPadding: 2, tickRotate: -90, tickFormat: p.yFmt, label: null}));
  marks.push(Plot.text([p.xTitle], {text: d=>d, frameAnchor: "bottom", dy: p.xTitleDy, lineAnchor: "top", fontSize: 13}));
  marks.push(Plot.text([p.yTitle], {text: d=>d, frameAnchor: "left", dx: -33, rotate: -90, lineAnchor: "top", textAnchor: "middle", fontSize: 13}));
  marks.push(Plot.text([p.letter], {text: d=>d, frameAnchor: "top-left", dx: p.letterPos[0], dy: p.letterPos[1], lineAnchor: "middle", textAnchor: "middle", fontSize: 18}));
  if (p.legend) {
    legendLabels.forEach((lab, i) => {
      marks.push(Plot.dot([lab], {frameAnchor: "top-left", dx: 35, dy: 17.3 + 20*i, r: 3.2, fill: COL[lab], stroke: "none"}));
      marks.push(Plot.text([lab], {text: d=>d, frameAnchor: "top-left", dx: 46.5, dy: 17.3 + 20*i, lineAnchor: "middle", textAnchor: "start", fontSize: 16}));
    });
  }
  const svg = Plot.plot({
    width: p.box[2], height: p.box[3],
    marginLeft: p.m[0], marginTop: p.m[1], marginRight: p.m[2], marginBottom: p.m[3],
    x: {domain: p.xDomain}, y: {domain: p.yDomain},
    style: {fontFamily: FONT, fontSize: "13px", background: "transparent", overflow: "visible", color: "#000"},
    marks
  });
  svg.style.position = "absolute";
  svg.style.left = p.box[0] + "px";
  svg.style.top = p.box[1] + "px";
  document.getElementById("wrap").appendChild(svg);
}

const T1 = "Mean projected shift (logged km)", Y1 = "Model uncertainty (logged st. dev.)";
const T2 = "Directional agreement among models", Y2 = "Model uncertainty of shift distance";
const T3 = "Absolute value of mean shift (logged lat)";

makePanel({letter: "A", letterPos: [16.5, 12.7], box: [0, 0, 374, 250], m: [36.5, 4, 7.3, 38],
  xDomain: [-1.97, 6.6], yDomain: [-1.64, 6.81], ticks: ticksA, xFmt: fmtInt, yFmt: fmtInt,
  series: [{data: pairs(ptsA), color: "#000"}], fits: [{coef: fitA, color: "#000"}],
  xTitle: T1, yTitle: Y1, xTitleDy: 22});
makePanel({letter: "B", letterPos: [18, 12.7], box: [374, 0, 375, 250], m: [42.3, 4, 2.6, 38],
  xDomain: [-0.56, 8.25], yDomain: [0.0, 8.05], ticks: ticksB, xFmt: fmtInt, yFmt: fmtInt,
  series: [{data: pairs(ptsB).concat(pairs(ptsB2)), color: "#000"}], fits: [{coef: fitB, color: "#000"}],
  xTitle: T1, yTitle: Y1, xTitleDy: 22});
makePanel({letter: "C", letterPos: [16.6, 13.4], box: [0, 250, 374, 250], m: [36.7, 7.3, 7.3, 34],
  xDomain: [0.023, 1.048], yDomain: [-0.73, 1.112], ticks: ticksC, xFmt: fmt1, yFmt: fmt1,
  series: [{data: cols(cLow), color: COL.low}, {data: cols(cMed), color: COL.medium}, {data: pairs(cHigh), color: COL.high}],
  cuts: cutsC, xTitle: T2, yTitle: Y2, xTitleDy: 23.5});
makePanel({letter: "D", letterPos: [17.3, 14], box: [374, 250, 375, 250], m: [42.7, 6, 2.3, 34],
  xDomain: [0.025, 1.042], yDomain: [-1.255, 2.094], ticks: ticksD, xFmt: fmt1, yFmt: d => d === -0.5 ? "" : fmt1(d),
  series: [{data: cols(dLow).concat(pairs(dLow2)), color: COL.low}, {data: cols(dMed), color: COL.medium}, {data: pairs(dHigh), color: COL.high}],
  cuts: cutsD, legend: true, xTitle: T2, yTitle: Y2, xTitleDy: 23.5});
makePanel({letter: "E", letterPos: [16.3, 11.7], box: [0, 500, 374, 258], m: [36.7, 13.3, 7.3, 38.7],
  xDomain: [-10.05, 1.62], yDomain: [-6.645, 1.815], ticks: ticksE, xFmt: fmtInt, yFmt: fmtInt,
  series: [{data: cols(eLow), color: COL.low}, {data: pairs(eMed).concat(cols(eMedBand)), color: COL.medium}, {data: pairs(eHigh), color: COL.high}],
  fits: [{coef: fitE.high, color: "#cc0000"}, {coef: fitE.low, color: "#0000cc"}, {coef: fitE.all, color: "#000"}],
  xTitle: T3, yTitle: Y1, xTitleDy: 23.4});
makePanel({letter: "F", letterPos: [16.3, 9.5], box: [374, 500, 375, 258], m: [42.7, 12.7, 2.3, 38.6],
  xDomain: [-7.147, 3.085], yDomain: [-5.195, 2.797], ticks: ticksF, xFmt: fmtInt, yFmt: fmtInt,
  series: [{data: cols(fLow), color: COL.low}, {data: pairs(fMed).concat(cols(fMedBand)), color: COL.medium}, {data: pairs(fHigh), color: COL.high}],
  fits: [{coef: fitF.high, color: "#cc0000"}, {coef: fitF.low, color: "#0000cc"}, {coef: fitF.all, color: "#000"}],
  xTitle: T3, yTitle: Y1, xTitleDy: 23.4});
</script>
</body></html>
